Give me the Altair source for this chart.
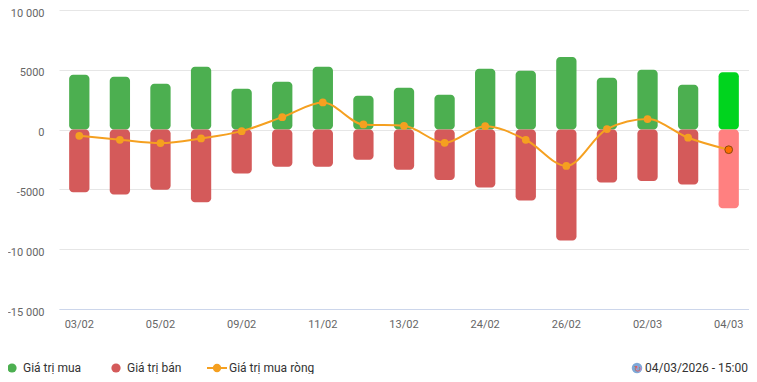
import altair as alt
import pandas as pd

dates = ["03/02", "04/02", "05/02", "06/02", "09/02", "10/02", "11/02", "12/02", "13/02",
         "23/02", "24/02", "25/02", "26/02", "27/02", "02/03", "03/03", "04/03"]
buy = [4580, 4420, 3830, 5250, 3420, 4000, 5250, 2830, 3500,
       2920, 5080, 4920, 6080, 4330, 5000, 3750, 4800]
sell = [-5230, -5430, -5020, -6070, -3680, -3100, -3100, -2520, -3350,
        -4210, -4850, -5930, -9270, -4430, -4290, -4600, -6570]
net = [-520, -850, -1130, -740, -130, 1040, 2270, 430, 320,
       -1100, 290, -850, -3040, 40, 880, -680, -1680]
y_ticks = [-15000, -10000, -5000, 0, 5000, 10000]
x_labels = dates[::2]
legend_names = ["Giá trị mua", "Giá trị bán", "Giá trị mua ròng"]
stamp = "04/03/2026 - 15:00"

GREEN, RED, ORANGE = "#4caf50", "#d45a5a", "#f5a020"
GREEN_LAST, RED_LAST = "#00d41e", "#ff8080"

df = pd.DataFrame({"date": dates, "buy": buy, "sell": sell, "net": net})
df["last"] = df["date"] == dates[-1]

FONT = "Roboto"
x = alt.X("date:N", sort=dates, title=None,
          scale=alt.Scale(paddingInner=0.5, paddingOuter=0.25),
          axis=alt.Axis(values=x_labels, labelAngle=0, ticks=False, domainColor="#ccd6eb",
                        labelColor="#666666", labelFontSize=11, labelFont=FONT,
                        labelPadding=9, grid=False))
yscale = alt.Scale(domain=[-15000, 10000], nice=False, zero=False)
yaxis = alt.Axis(values=y_ticks, title=None, domain=False, ticks=False, grid=True,
                 gridColor="#e6e6e6", labelColor="#666666", labelFontSize=11, labelFont=FONT,
                 labelPadding=15, labelOffset=3,
                 labelExpr="datum.value == 10000 ? '10 000' : datum.value == -10000 ? '-10 000' : datum.value == -15000 ? '-15 000' : toString(datum.value)")

base = alt.Chart(df)
buy_bars = base.mark_bar(cornerRadius=4).encode(
    x=x,
    y=alt.Y("buy:Q", scale=yscale, axis=yaxis),
    y2=alt.datum(0),
    color=alt.condition("datum.last", alt.value(GREEN_LAST), alt.value(GREEN)),
)
sell_bars = base.mark_bar(cornerRadius=4).encode(
    x=x,
    y=alt.Y("sell:Q"),
    y2=alt.datum(0),
    color=alt.condition("datum.last", alt.value(RED_LAST), alt.value(RED)),
)
line = base.mark_line(interpolate="monotone", color=ORANGE, strokeWidth=2).encode(
    x=x, y=alt.Y("net:Q"))
pts = base.mark_point(filled=True, size=60, opacity=1).encode(
    x=x, y=alt.Y("net:Q"),
    fill=alt.condition("datum.last", alt.value("#ff6f00"), alt.value(ORANGE)),
    stroke=alt.condition("datum.last", alt.value("#8a4a10"), alt.value(ORANGE)),
    strokeWidth=alt.condition("datum.last", alt.value(1), alt.value(0)),
)

LY = 358
one = pd.DataFrame({"a": [0]})
lc = alt.Chart(one)
leg = [
    lc.mark_point(filled=True, size=85, color=GREEN, opacity=1).encode(x=alt.value(-47), y=alt.value(LY)),
    lc.mark_text(text=legend_names[0], align="left", baseline="middle", font=FONT, fontSize=12, color="#333333").encode(x=alt.value(-36), y=alt.value(LY)),
    lc.mark_point(filled=True, size=85, color=RED, opacity=1).encode(x=alt.value(57), y=alt.value(LY)),
    lc.mark_text(text=legend_names[1], align="left", baseline="middle", font=FONT, fontSize=12, color="#333333").encode(x=alt.value(68), y=alt.value(LY)),
    lc.mark_rule(color=ORANGE, strokeWidth=2).encode(x=alt.value(148), x2=alt.value(168), y=alt.value(LY)),
    lc.mark_point(filled=True, size=70, color=ORANGE, opacity=1).encode(x=alt.value(158), y=alt.value(LY)),
    lc.mark_text(text=legend_names[2], align="left", baseline="middle", font=FONT, fontSize=12, color="#333333").encode(x=alt.value(170), y=alt.value(LY)),
    lc.mark_point(filled=True, size=110, color="#7fa8d8", opacity=1).encode(x=alt.value(578), y=alt.value(LY)),
    lc.mark_text(text="↻", align="center", baseline="middle", fontSize=9, color="#e05a5a").encode(x=alt.value(579), y=alt.value(LY + 1)),
    lc.mark_text(text=stamp, align="right", baseline="middle", font=FONT, fontSize=12, color="#333333").encode(x=alt.value(689), y=alt.value(LY)),
]

chart = alt.layer(buy_bars, sell_bars, line, pts, *leg).properties(
    width=690, height=299,
    autosize=alt.AutoSizeParams(type="none"),
    padding={"left": 51, "top": 2, "right": 0, "bottom": 65},
).configure(background="white").configure_view(stroke=None)

chart.save("out.html", embed_options={"renderer": "svg", "actions": False})
